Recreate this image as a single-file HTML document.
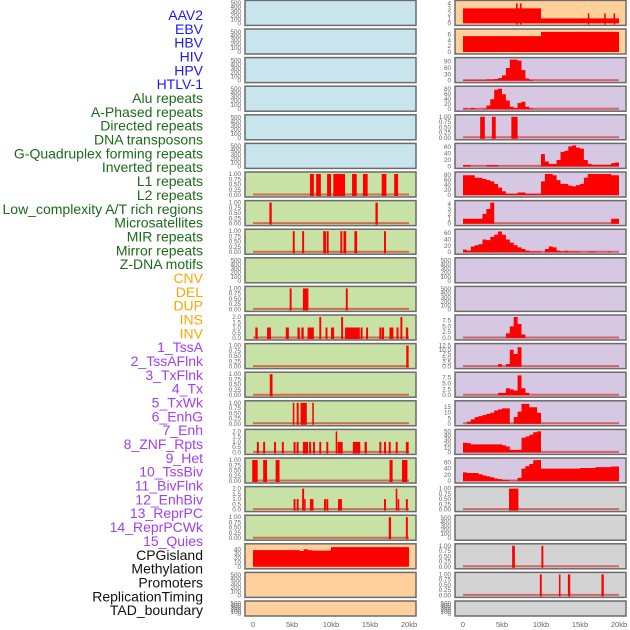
<!DOCTYPE html>
<html><head><meta charset="utf-8"><style>
html,body{margin:0;padding:0;background:#fff;}
svg{display:block;font-family:"Liberation Sans",sans-serif;}
</style></head><body>
<svg id="chart" width="630" height="630" viewBox="0 0 630 630"></svg>
<script>
// ---- labels ----
const labelTexts = ["AAV2","EBV","HBV","HIV","HPV","HTLV-1","Alu repeats","A-Phased repeats","Directed repeats","DNA transposons","G-Quadruplex forming repeats","Inverted repeats","L1 repeats","L2 repeats","Low_complexity A/T rich regions","Microsatellites","MIR repeats","Mirror repeats","Z-DNA motifs","CNV","DEL","DUP","INS","INV","1_TssA","2_TssAFlnk","3_TxFlnk","4_Tx","5_TxWk","6_EnhG","7_Enh","8_ZNF_Rpts","9_Het","10_TssBiv","11_BivFlnk","12_EnhBiv","13_ReprPC","14_ReprPCWk","15_Quies","CPGisland","Methylation","Promoters","ReplicationTiming","TAD_boundary"];
const labelGroups = [6,13,5,15,5]; // counts per colour group
const groupColors = ["#1a1aff","#1a6b1a","#ffa500","#a040f0","#111111"];

// ---- x axis ----
const xTickValues = [0,5,10,15,20];
const xTickLabels = ["0","5kb","10kb","15kb","20kb"];

// ---- panel backgrounds ----
const leftBg  = ["blue","blue","blue","blue","blue","blue","green","green","green","green","green","green","green","green","green","green","green","green","green","orange","orange","orange"];
const rightBg = ["orange","orange","purple","purple","purple","purple","purple","purple","purple","purple","purple","purple","purple","purple","purple","purple","purple","gray","gray","gray","gray","gray"];

// ---- histogram data (0.5kb bins from 0 to 20kb) ----
const R0hist = [3,3,3,3,3,3,3,3,3,3,3,3,3,3,3,3,3,3,3,3,1,1,1,1,1,1,1,1,1,1,1,1,1,1,1,1,1,1,1,1];
const R1hist = [5.5,5.5,5.5,5.5,5.5,5.5,5.5,5.5,5.5,5.5,5.5,5.5,5.5,5.5,5.5,5.5,5.5,5.5,5.5,5.5,7,7,7,7,7,7,7,7,7,7,7,7,7,7,7,7,7,7,7,7];
const R2hist = [2,2,2,2,2,2,5,5,7,12,25,60,100,100,95,50,10,3,0,0,0,0,0,0,0,0,0,0,0,0,0,0,0,0,0,0,0,0,0,0];
const R3hist = [3,1,5,1,0,2,15,40,78,82,60,35,10,5,25,30,10,3,0,0,0,0,0,0,0,0,0,0,0,0,0,0,0,0,0,0,0,0,0,0];
const R5hist = [4,4,0,0,0,0,4,4,4,0,0,0,0,0,0,0,0,0,0,0,38,15,8,8,20,45,48,62,65,58,55,20,8,5,5,5,5,5,10,12];
const R6hist = [80,80,80,70,70,65,60,55,45,30,15,5,5,5,10,10,5,5,5,5,55,85,85,80,60,45,45,38,35,40,45,70,85,85,85,85,85,85,80,80];
const R7hist = [1,1,1,1,1,2,3,4.3,0,0,0,0,0,0,0,0,0,0,0,0,0,0,0,0,0,0,0,0,0,0,0,0,0,0,0,0,0,0,1,1];
const R8hist = [8,5,18,22,25,40,38,48,55,65,55,40,30,22,15,10,5,2,2,2,0,10,18,15,5,2,4,2,2,2,0,0,2,2,0,0,0,2,0,0];
const R11hist = [0,0,0,0,0,0,0,0,0,0,0,2,5,9,6,1.5,0,0,0,0,0,0,0,0,0,0,0,0,0,0,0,0,0,0,0,0,0,0,0,0];
const R12hist = [0,0,0,0,0,0,0,0,0,1.5,0,1.5,10,7.5,11.5,0,0,0,0,0,0,0,0,0,0,0,0,0,0,0,0,0,0,0,0,0,0,0,0,0];
const R13hist = [0,0,0,0,0,0,0,0,0,1,1,3,2.5,2,8.5,3,1,0,0,0,0,0,0,0,0,0,0,0,0,0,0,0,0,0,0,0,0,0,0,0];
const R14hist = [0,2,4,6,7,8,9,10,12,13,14,14,0,6,11,18,18,15,15,10,0,0,0,0,0,0,0,0,0,0,0,0,0,0,0,0,0,0,0,0];
const R15hist = [23,22,19,19,19,19,19,19,19,19,17,14,6,6,6,35,38,42,48,50,0,0,0,0,0,0,0,0,0,0,0,0,0,0,0,0,0,0,0,0];
const R16hist = [28,26,26,26,22,18,15,12,8,6,4,3,1,1,10,40,48,55,67,68,40,40,40,40,40,40,40,40,40,40,42,42,42,42,45,45,45,45,47,47];
const L19hist = [38,38,38,38,38,38,38,38,38,38,38,38,36,40,38,37,37,37,37,37,45,45,45,45,45,45,45,45,45,45,45,45,45,45,45,45,45,45,45,45];

// ---- spike data: start kb, end kb, height ----
const R0spStart=[6.8,7.3,16.0,18.1,19.3], R0spEnd=[7.0,7.5,16.2,18.3,19.5], R0spH=[4,4,2,2,2];
const R4spStart=[2.2,3.7,6.2], R4spEnd=[2.8,4.2,7.0], R4spH=[1,1,1];
const R17spStart=[5.9], R17spEnd=[7.1], R17spH=[1];
const R19spStart=[6.3,10.05], R19spEnd=[6.65,10.3], R19spH=[1,1];
const R20spStart=[9.85,12.3,13.45,17.75], R20spEnd=[10.1,12.5,13.75,18.05], R20spH=[1,1,1,1];
const L6spStart=[7.3,8.1,9.5,10.3,12.7,14.1,16.5,18.1], L6spEnd=[7.8,8.7,10.0,11.8,13.3,14.7,17.1,18.6], L6spH=[1,1,1,1,1,1,1,1];
const L7spStart=[2.1,15.7], L7spEnd=[2.4,16.0], L7spH=[1,1];
const L8spStart=[5.1,6.3,9.0,9.45,11.2,11.6,13.0,16.8], L8spEnd=[5.35,6.55,9.35,9.7,11.45,11.95,13.35,17.05], L8spH=[1,1,1,1,1,1,1,1];
const L10spStart=[4.7,6.4,11.9], L10spEnd=[4.95,7.1,12.15], L10spH=[1,1,1];
const L11spStart=[0.3,1.8,4.2,5.7,6.2,7.0,8.5,9.3,10.0,11.3,11.8,13.8,14.5,16.2,16.5,17.5,18.4,18.9,19.6], L11spEnd=[0.6,2.3,4.6,6.0,6.5,7.8,8.75,9.55,10.4,11.55,13.7,14.05,14.75,16.45,16.8,18.0,18.65,19.15,19.9], L11spH=[1,1,1,1,1,1,2,1,1,2,1,1,1,1,1,1,1,2,1];
const L12spStart=[19.65], L12spEnd=[19.95], L12spH=[1];
const L13spStart=[2.15], L13spEnd=[2.5], L13spH=[1];
const L14spStart=[5.1,5.6,6.1,7.6], L14spEnd=[5.3,5.85,6.9,7.8], L14spH=[1,1,1,1];
const L15spStart=[0.5,1.3,2.7,3.7,5.2,5.6,6.4,7.2,7.7,8.5,9.4,10.6,10.85,12.8,14.3,16.2,16.8,17.4,18.3,19.6], L15spEnd=[0.75,1.55,2.95,3.95,5.45,5.85,7.05,7.45,7.95,8.75,9.65,10.8,11.5,13.75,14.6,16.45,17.05,17.65,18.55,19.95], L15spH=[1,1,1,1,1,1,1,1,1,1,1,2,1,1,1,1,1,1,1,1];
const L16spStart=[-0.1,1.3,2.9,17.5,19.1], L16spEnd=[0.6,1.8,3.4,17.9,19.8], L16spH=[1,1,1,1,1];
const L17spStart=[5.2,5.6,6.3,6.55,7.3,9.1,9.4,10.9,16.8,18.3,18.55,19.6], L17spEnd=[5.45,5.85,6.55,6.75,7.75,9.35,9.65,11.4,17.05,18.5,18.75,19.85], L17spH=[1,1,2,1,1,1,1,1,1,2,1,1];
const L18spStart=[17.4,19.6], L18spEnd=[17.7,19.85], L18spH=[1,1];

// ---- tick sets ----
const ticksEmpty=[0,100,200,300,400,500], ticksEmptyLbl=["0","100","200","300","400","500"];
const ticksUnit=[0,0.25,0.5,0.75,1], ticksUnitLbl=["0.00","0.25","0.50","0.75","1.00"];
const ticksTwo=[0,0.5,1,1.5,2], ticksTwoLbl=["0.0","0.5","1.0","1.5","2.0"];

// panel specs [hist, spStart, spEnd, spH, ymax, ticks, tickLabels]
const leftPanels = [];
const rightPanels = [];
for(let i=0;i<22;i++){leftPanels.push({ymax:520,t:ticksEmpty,tl:ticksEmptyLbl});rightPanels.push({ymax:520,t:ticksEmpty,tl:ticksEmptyLbl});}
function setP(arr,i,o){arr[i]=o;}
setP(rightPanels,0,{h:R0hist,s:[R0spStart,R0spEnd,R0spH],ymax:4.2,t:[0,1,2,3,4],tl:["0","1","2","3","4"]});
setP(rightPanels,1,{h:R1hist,ymax:7.3,t:[0,2,4,6],tl:["0","2","4","6"]});
setP(rightPanels,2,{h:R2hist,ymax:100,t:[0,30,60,90],tl:["0","30","60","90"],base:1});
setP(rightPanels,3,{h:R3hist,ymax:84,t:[0,20,40,60,80],tl:["0","20","40","60","80"],base:1});
setP(rightPanels,4,{s:[R4spStart,R4spEnd,R4spH],ymax:1,t:ticksUnit,tl:ticksUnitLbl,base:1});
setP(rightPanels,5,{h:R5hist,ymax:65,t:[0,20,40,60],tl:["0","20","40","60"],base:1});
setP(rightPanels,6,{h:R6hist,ymax:85,t:[0,20,40,60,80],tl:["0","20","40","60","80"],base:1});
setP(rightPanels,7,{h:R7hist,ymax:4.3,t:[0,1,2,3,4],tl:["0","1","2","3","4"],base:1});
setP(rightPanels,8,{h:R8hist,ymax:66,t:[0,20,40,60],tl:["0","20","40","60"],base:1});
setP(rightPanels,11,{h:R11hist,ymax:9,t:[0,2.5,5,7.5],tl:["0.0","2.5","5.0","7.5"],base:1});
setP(rightPanels,12,{h:R12hist,ymax:12.5,t:[0,2.5,5,7.5,10,12.5],tl:["0.0","2.5","5.0","7.5","10.0","12.5"],base:1});
setP(rightPanels,13,{h:R13hist,ymax:9,t:[0,2.5,5,7.5],tl:["0.0","2.5","5.0","7.5"],base:1});
setP(rightPanels,14,{h:R14hist,ymax:19,t:[0,5,10,15],tl:["0","5","10","15"],base:1});
setP(rightPanels,15,{h:R15hist,ymax:50,t:[0,10,20,30,40,50],tl:["0","10","20","30","40","50"],base:1});
setP(rightPanels,16,{h:R16hist,ymax:68,t:[0,20,40,60],tl:["0","20","40","60"],base:1});
setP(rightPanels,17,{s:[R17spStart,R17spEnd,R17spH],ymax:1,t:ticksUnit,tl:ticksUnitLbl,base:1});
setP(rightPanels,19,{s:[R19spStart,R19spEnd,R19spH],ymax:1,t:ticksUnit,tl:ticksUnitLbl,base:1});
setP(rightPanels,20,{s:[R20spStart,R20spEnd,R20spH],ymax:1,t:ticksUnit,tl:ticksUnitLbl,base:1});
const unitL = (s)=>({s:s,ymax:1,t:ticksUnit,tl:ticksUnitLbl,base:1});
setP(leftPanels,6,unitL([L6spStart,L6spEnd,L6spH]));
setP(leftPanels,7,unitL([L7spStart,L7spEnd,L7spH]));
setP(leftPanels,8,unitL([L8spStart,L8spEnd,L8spH]));
setP(leftPanels,10,unitL([L10spStart,L10spEnd,L10spH]));
setP(leftPanels,11,{s:[L11spStart,L11spEnd,L11spH],ymax:2,t:ticksTwo,tl:ticksTwoLbl,base:1});
setP(leftPanels,12,unitL([L12spStart,L12spEnd,L12spH]));
setP(leftPanels,13,unitL([L13spStart,L13spEnd,L13spH]));
setP(leftPanels,14,unitL([L14spStart,L14spEnd,L14spH]));
setP(leftPanels,15,{s:[L15spStart,L15spEnd,L15spH],ymax:2,t:ticksTwo,tl:ticksTwoLbl,base:1});
setP(leftPanels,16,unitL([L16spStart,L16spEnd,L16spH]));
setP(leftPanels,17,{s:[L17spStart,L17spEnd,L17spH],ymax:2,t:ticksTwo,tl:ticksTwoLbl,base:1});
setP(leftPanels,18,unitL([L18spStart,L18spEnd,L18spH]));
setP(leftPanels,19,{h:L19hist,ymax:48,t:[0,10,20,30,40],tl:["0","10","20","30","40"]});

const bgColors={blue:"#c8e4ec",green:"#c8e1a4",orange:"#ffcf9c",purple:"#d6c7e2",gray:"#d3d3d3"};
const NS="http://www.w3.org/2000/svg";
const svg=document.getElementById("chart");
function mk(tag,attrs,parent){const e=document.createElementNS(NS,tag);for(const k in attrs)e.setAttribute(k,attrs[k]);(parent||svg).appendChild(e);return e;}

// labels
let gi=0,cnt=0;
labelTexts.forEach((t,i)=>{
  while(cnt>=labelGroups[gi]){cnt-=labelGroups[gi];gi++;}
  const el=mk("text",{x:203,y:20+i*13.84,"text-anchor":"end","font-size":"14",fill:groupColors[gi]});
  el.textContent=t;
  
  
  cnt++;
});

const cols=[{x0:245,x1:416,z:253,p:leftPanels,bg:leftBg,name:"left"},{x0:455,x1:626,z:463,p:rightPanels,bg:rightBg,name:"right"}];
const KB=7.8;
cols.forEach(c=>{
  const xs=kb=>c.z+kb*KB;
  for(let i=0;i<22;i++){
    const top=0.4+i*28.6, h=(i===21?15:25), bot=top+h;
    const P=c.p[i];
    const g=mk("g",{});
    
    
    mk("rect",{x:c.x0,y:top,width:c.x1-c.x0,height:h,fill:bgColors[c.bg[i]],stroke:"#6b6b6b","stroke-width":1.5},g);
    const y0=bot-2, ys=v=>y0-(v/P.ymax)*(h-4);
    // ticks
    P.t.forEach((tv,k)=>{
      const tx=mk("text",{x:c.x0-4,y:ys(tv)+2,"text-anchor":"end","font-size":"6.3",fill:"#666"},g);
      tx.textContent=P.tl[k];
      
      
    });
    if(P.base){
      mk("line",{x1:xs(0),x2:xs(20),y1:y0-0.5,y2:y0-0.5,stroke:"rgba(210,30,30,0.6)","stroke-width":2},g);
    }
    if(P.h){
      let d="M"+xs(0)+","+y0;
      P.h.forEach((v,k)=>{const yy=Math.max(ys(v),top+0.8);d+=" L"+xs(k*0.5)+","+yy+" L"+xs(k*0.5+0.5)+","+yy;});
      d+=" L"+xs(20)+","+y0+" Z";
      const pa=mk("path",{d:d,fill:"#ff0000"},g);
      
      
    }
    if(P.s){
      const [S,E,H]=P.s;
      S.forEach((s,k)=>{
        const yy=Math.max(ys(H[k]),top+0.8);
        const r=mk("rect",{x:xs(s),y:yy,width:Math.max(xs(E[k])-xs(s),1.5),height:y0+1-yy,fill:"#ff0000"},g);
        
        
      });
    }
  }
  xTickValues.forEach((v,k)=>{
    const tx=mk("text",{x:xs(v),y:627,"text-anchor":"middle","font-size":"7.5",fill:"#666"});
    tx.textContent=xTickLabels[k];
    
    
  });
});
</script>
</body></html>
